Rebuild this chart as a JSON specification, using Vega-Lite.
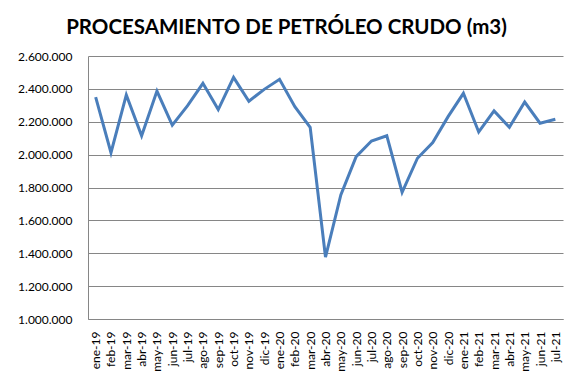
{
  "$schema": "https://vega.github.io/schema/vega-lite/v6.json",
  "width": 475,
  "height": 263,
  "autosize": "none",
  "padding": {"left": 88, "top": 56, "right": 16, "bottom": 70},
  "background": "white",
  "title": {
    "text": "PROCESAMIENTO DE PETRÓLEO CRUDO (m3)",
    "font": "Lato",
    "fontSize": 20.5,
    "fontWeight": "bold",
    "color": "black",
    "anchor": "middle",
    "dx": -39,
    "offset": 12
  },
  "config": {
    "locale": {"number": {"decimal": ",", "thousands": ".", "grouping": [3], "currency": ["$", ""]}},
    "view": {"stroke": null},
    "axis": {"labelFont": "Lato", "labelFontSize": 12, "labelColor": "black", "domainColor": "#868686", "gridColor": "#868686", "ticks": false, "title": null}
  },
  "data": {"values": [
    {"mes": "ene-19", "v": 2350000},
    {"mes": "feb-19", "v": 2012000},
    {"mes": "mar-19", "v": 2363000},
    {"mes": "abr-19", "v": 2115000},
    {"mes": "may-19", "v": 2387000},
    {"mes": "jun-19", "v": 2179000},
    {"mes": "jul-19", "v": 2298000},
    {"mes": "ago-19", "v": 2434000},
    {"mes": "sep-19", "v": 2274000},
    {"mes": "oct-19", "v": 2470000},
    {"mes": "nov-19", "v": 2325000},
    {"mes": "dic-19", "v": 2397000},
    {"mes": "ene-20", "v": 2458000},
    {"mes": "feb-20", "v": 2292000},
    {"mes": "mar-20", "v": 2166000},
    {"mes": "abr-20", "v": 1376000},
    {"mes": "may-20", "v": 1755000},
    {"mes": "jun-20", "v": 1988000},
    {"mes": "jul-20", "v": 2083000},
    {"mes": "ago-20", "v": 2115000},
    {"mes": "sep-20", "v": 1771000},
    {"mes": "oct-20", "v": 1978000},
    {"mes": "nov-20", "v": 2073000},
    {"mes": "dic-20", "v": 2231000},
    {"mes": "ene-21", "v": 2373000},
    {"mes": "feb-21", "v": 2138000},
    {"mes": "mar-21", "v": 2266000},
    {"mes": "abr-21", "v": 2166000},
    {"mes": "may-21", "v": 2320000},
    {"mes": "jun-21", "v": 2191000},
    {"mes": "jul-21", "v": 2215000}
  ]},
  "mark": {"type": "line", "color": "#4A7EBB", "strokeWidth": 3},
  "encoding": {
    "x": {
      "field": "mes", "type": "ordinal", "sort": null,
      "scale": {"type": "point", "padding": 0.5},
      "axis": {"labelAngle": -90, "labelPadding": 12, "grid": false}
    },
    "y": {
      "field": "v", "type": "quantitative",
      "scale": {"domain": [1000000, 2600000], "zero": false},
      "axis": {"values": [1000000, 1200000, 1400000, 1600000, 1800000, 2000000, 2200000, 2400000, 2600000], "format": ",.0f", "labelPadding": 16, "grid": true}
    }
  }
}
